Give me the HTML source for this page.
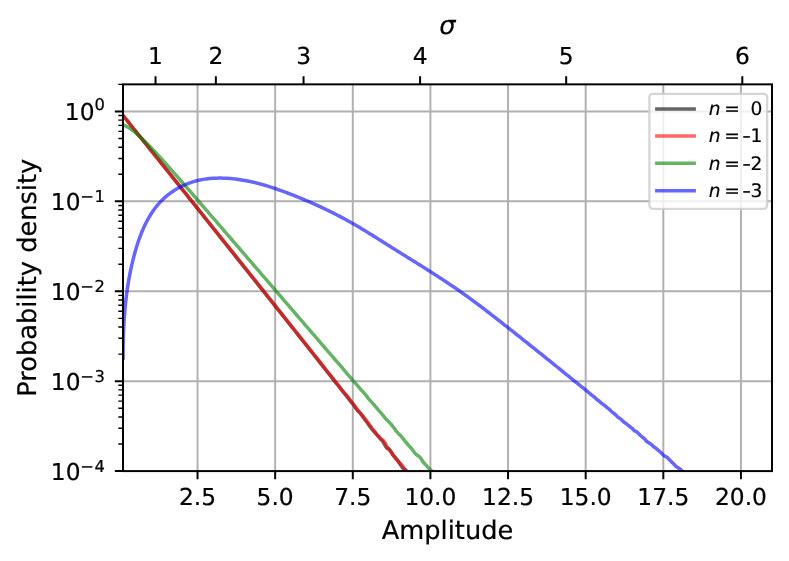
<!DOCTYPE html>
<html><head><meta charset="utf-8"><title>Probability density</title>
<style>html,body{margin:0;padding:0;background:#fff}svg{display:block}</style></head>
<body>
<svg width="789" height="561" viewBox="0 0 789 561" font-family="DejaVu Sans, Liberation Sans, sans-serif" text-rendering="geometricPrecision" stroke-linejoin="round">
<rect width="789" height="561" fill="#fff"/>
<defs><clipPath id="ax"><rect x="123.00" y="84.35" width="649.00" height="386.75"/></clipPath></defs>
<path d="M197.53 84.35V471.10M275.16 84.35V471.10M352.79 84.35V471.10M430.42 84.35V471.10M508.05 84.35V471.10M585.68 84.35V471.10M663.32 84.35V471.10M740.95 84.35V471.10M123.00 111.42H772.00M123.00 201.34H772.00M123.00 291.26H772.00M123.00 381.18H772.00M123.00 471.10H772.00" stroke="#b0b0b0" stroke-width="1.95" fill="none"/>
<g clip-path="url(#ax)" fill="none" stroke-width="3.50" stroke-opacity="0.6" stroke-linejoin="round" stroke-linecap="butt">
<path d="M123.00 115.32L124.55 117.28L126.11 119.23L127.66 121.18L129.21 123.13L130.76 125.09L132.32 127.04L133.87 128.99L135.42 130.94L136.97 132.90L138.53 134.85L140.08 136.78L141.63 138.71L143.18 140.64L144.74 142.56L146.29 144.49L147.84 146.42L149.39 148.35L150.95 150.28L152.50 152.21L154.05 154.14L155.61 156.07L157.16 158.00L158.71 159.93L160.26 161.86L161.82 163.79L163.37 165.72L164.92 167.64L166.47 169.57L168.03 171.52L169.58 173.47L171.13 175.42L172.68 177.37L174.24 179.31L175.79 181.26L177.34 183.21L178.89 185.16L180.45 187.11L182.00 189.06L183.55 191.01L185.11 192.95L186.66 194.90L188.21 196.85L189.76 198.80L191.32 200.75L192.87 202.70L194.42 204.66L195.97 206.61L197.53 208.56L199.08 210.51L200.63 212.46L202.18 214.41L203.74 216.37L205.29 218.32L206.84 220.27L208.39 222.22L209.95 224.18L211.50 226.13L213.05 228.09L214.61 230.04L216.16 232.00L217.71 233.95L219.26 235.91L220.82 237.86L222.37 239.82L223.92 241.78L225.47 243.73L227.03 245.69L228.58 247.65L230.13 249.59L231.68 251.53L233.24 253.47L234.79 255.41L236.34 257.36L237.89 259.30L239.45 261.24L241.00 263.19L242.55 265.13L244.11 267.07L245.66 269.02L247.21 270.96L248.76 272.91L250.32 274.86L251.87 276.80L253.42 278.75L254.97 280.70L256.53 282.64L258.08 284.59L259.63 286.54L261.18 288.49L262.74 290.44L264.29 292.39L265.84 294.34L267.39 296.29L268.95 298.24L270.50 300.19L272.05 302.14L273.61 304.10L275.16 306.05L276.71 308.00L278.26 309.96L279.82 311.91L281.37 313.87L282.92 315.82L284.47 317.78L286.03 319.73L287.58 321.69L289.13 323.64L290.68 325.60L292.24 327.56L293.79 329.52L295.34 331.48L296.89 333.43L298.45 335.39L300.00 337.35L301.55 339.31L303.11 341.27L304.66 343.23L306.21 345.20L307.76 347.16L309.32 349.12L310.87 351.08L312.42 353.02L313.97 354.99L315.53 356.96L317.08 358.91L318.63 360.82L320.18 362.84L321.74 364.84L323.29 366.80L324.84 368.76L326.39 370.82L327.95 372.77L329.50 374.64L331.05 376.57L332.61 378.56L334.16 380.64L335.71 382.55L337.26 384.50L338.82 386.41L340.37 388.47L341.92 390.35L343.47 392.18L345.03 394.07L346.58 396.12L348.13 398.19L349.68 400.14L351.24 402.07L352.79 403.96L354.34 406.04L355.89 408.50L357.45 410.55L359.00 411.88L360.55 413.23L362.11 415.50L363.66 417.97L365.21 420.07L366.76 422.02L368.32 424.21L369.87 426.38L371.42 428.58L372.97 430.26L374.53 432.08L376.08 433.70L377.63 435.72L379.18 437.38L380.74 439.31L382.29 440.61L383.84 443.27L385.39 445.98L386.95 448.27L388.50 448.48L390.05 450.04L391.61 452.61L393.16 455.55L394.71 456.91L396.26 458.76L397.82 460.54L399.37 463.03L400.92 465.54L402.47 467.80L404.03 469.14L405.58 469.86L407.13 471.85L408.68 474.55L410.24 476.91L411.79 478.45L413.34 479.95L414.89 482.19L416.45 484.30" stroke="#000"/>
<path d="M123.00 115.32L124.55 117.28L126.11 119.23L127.66 121.18L129.21 123.13L130.76 125.09L132.32 127.04L133.87 128.99L135.42 130.94L136.97 132.90L138.53 134.85L140.08 136.78L141.63 138.71L143.18 140.64L144.74 142.56L146.29 144.49L147.84 146.42L149.39 148.35L150.95 150.28L152.50 152.21L154.05 154.14L155.61 156.07L157.16 158.00L158.71 159.93L160.26 161.86L161.82 163.79L163.37 165.72L164.92 167.64L166.47 169.57L168.03 171.50L169.58 173.44L171.13 175.37L172.68 177.30L174.24 179.23L175.79 181.16L177.34 183.09L178.89 185.02L180.45 186.95L182.00 188.88L183.55 190.81L185.11 192.75L186.66 194.68L188.21 196.61L189.76 198.54L191.32 200.48L192.87 202.41L194.42 204.34L195.97 206.28L197.53 208.21L199.08 210.15L200.63 212.08L202.18 214.02L203.74 215.95L205.29 217.89L206.84 219.82L208.39 221.76L209.95 223.69L211.50 225.63L213.05 227.57L214.61 229.51L216.16 231.44L217.71 233.38L219.26 235.32L220.82 237.26L222.37 239.20L223.92 241.14L225.47 243.08L227.03 245.02L228.58 246.96L230.13 248.90L231.68 250.84L233.24 252.78L234.79 254.72L236.34 256.66L237.89 258.61L239.45 260.55L241.00 262.49L242.55 264.44L244.11 266.38L245.66 268.33L247.21 270.27L248.76 272.22L250.32 274.16L251.87 276.11L253.42 278.06L254.97 280.00L256.53 281.95L258.08 283.90L259.63 285.85L261.18 287.80L262.74 289.75L264.29 291.70L265.84 293.65L267.39 295.60L268.95 297.55L270.50 299.50L272.05 301.45L273.61 303.41L275.16 305.36L276.71 307.31L278.26 309.26L279.82 311.22L281.37 313.17L282.92 315.13L284.47 317.08L286.03 319.04L287.58 321.00L289.13 322.95L290.68 324.91L292.24 326.87L293.79 328.83L295.34 330.78L296.89 332.74L298.45 334.70L300.00 336.66L301.55 338.62L303.11 340.58L304.66 342.54L306.21 344.50L307.76 346.47L309.32 348.43L310.87 350.39L312.42 352.35L313.97 354.31L315.53 356.25L317.08 358.20L318.63 360.19L320.18 362.16L321.74 364.17L323.29 366.14L324.84 368.14L326.39 370.10L327.95 372.05L329.50 373.99L331.05 375.87L332.61 377.92L334.16 379.88L335.71 381.83L337.26 383.69L338.82 385.83L340.37 387.91L341.92 390.00L343.47 392.09L345.03 393.76L346.58 395.29L348.13 396.90L349.68 399.23L351.24 401.30L352.79 403.36L354.34 405.18L355.89 407.24L357.45 409.37L359.00 411.76L360.55 413.75L362.11 415.48L363.66 416.91L365.21 418.99L366.76 420.79L368.32 422.92L369.87 425.23L371.42 427.44L372.97 429.26L374.53 431.35L376.08 433.59L377.63 435.16L379.18 436.71L380.74 438.62L382.29 439.66L383.84 441.09L385.39 443.03L386.95 446.68L388.50 449.14L390.05 451.11L391.61 452.53L393.16 455.03L394.71 457.20L396.26 459.02L397.82 460.99L399.37 462.73L400.92 463.86L402.47 465.45L404.03 468.16L405.58 470.56L407.13 472.19L408.68 473.65L410.24 476.46L411.79 479.24L413.34 481.16L414.89 482.06L416.45 483.80" stroke="#f00"/>
<path d="M123.00 124.73L124.55 125.42L126.11 126.21L127.66 127.11L129.21 128.09L130.76 129.15L132.32 130.28L133.87 131.48L135.42 132.74L136.97 134.05L138.53 135.40L140.08 136.81L141.63 138.25L143.18 139.72L144.74 141.23L146.29 142.77L147.84 144.33L149.39 145.92L150.95 147.52L152.50 149.15L154.05 150.79L155.61 152.45L157.16 154.12L158.71 155.81L160.26 157.51L161.82 159.22L163.37 160.93L164.92 162.66L166.47 164.39L168.03 166.13L169.58 167.88L171.13 169.63L172.68 171.39L174.24 173.15L175.79 174.91L177.34 176.68L178.89 178.45L180.45 180.23L182.00 182.01L183.55 183.79L185.11 185.57L186.66 187.36L188.21 189.14L189.76 190.93L191.32 192.72L192.87 194.51L194.42 196.31L195.97 198.10L197.53 199.90L199.08 201.69L200.63 203.49L202.18 205.28L203.74 207.08L205.29 208.88L206.84 210.68L208.39 212.48L209.95 214.28L211.50 216.08L213.05 217.88L214.61 219.68L216.16 221.48L217.71 223.28L219.26 225.08L220.82 226.89L222.37 228.69L223.92 230.49L225.47 232.29L227.03 234.09L228.58 235.90L230.13 237.70L231.68 239.50L233.24 241.31L234.79 243.11L236.34 244.91L237.89 246.72L239.45 248.52L241.00 250.32L242.55 252.13L244.11 253.93L245.66 255.73L247.21 257.54L248.76 259.34L250.32 261.14L251.87 262.95L253.42 264.75L254.97 266.55L256.53 268.36L258.08 270.16L259.63 271.96L261.18 273.77L262.74 275.57L264.29 277.37L265.84 279.18L267.39 280.98L268.95 282.79L270.50 284.59L272.05 286.39L273.61 288.20L275.16 290.00L276.71 291.80L278.26 293.61L279.82 295.41L281.37 297.22L282.92 299.02L284.47 300.82L286.03 302.63L287.58 304.43L289.13 306.23L290.68 308.04L292.24 309.84L293.79 311.65L295.34 313.45L296.89 315.25L298.45 317.06L300.00 318.86L301.55 320.67L303.11 322.47L304.66 324.27L306.21 326.08L307.76 327.88L309.32 329.68L310.87 331.49L312.42 333.29L313.97 335.10L315.53 336.90L317.08 338.70L318.63 340.51L320.18 342.31L321.74 344.11L323.29 345.92L324.84 347.72L326.39 349.53L327.95 351.34L329.50 353.14L331.05 354.92L332.61 356.69L334.16 358.48L335.71 360.29L337.26 362.09L338.82 363.86L340.37 365.63L341.92 367.43L343.47 369.29L345.03 371.21L346.58 373.05L348.13 374.80L349.68 376.55L351.24 378.44L352.79 380.33L354.34 382.07L355.89 383.73L357.45 385.54L359.00 387.45L360.55 389.23L362.11 390.90L363.66 392.53L365.21 394.30L366.76 396.34L368.32 398.40L369.87 400.23L371.42 401.87L372.97 403.60L374.53 405.30L376.08 407.23L377.63 409.05L379.18 410.93L380.74 412.62L382.29 414.48L383.84 416.43L385.39 418.28L386.95 420.07L388.50 421.50L390.05 423.18L391.61 424.81L393.16 426.86L394.71 428.78L396.26 431.19L397.82 432.94L399.37 434.66L400.92 435.86L402.47 437.95L404.03 439.73L405.58 441.78L407.13 443.71L408.68 445.60L410.24 447.15L411.79 448.72L413.34 450.92L414.89 453.13L416.45 454.68L418.00 455.67L419.55 456.92L421.11 458.73L422.66 461.29L424.21 463.21L425.76 464.89L427.32 466.52L428.87 468.35L430.42 469.79L431.97 471.34L433.53 473.94L435.08 476.44L436.63 479.08L438.18 480.51L439.74 481.80L441.29 482.91" stroke="#008000"/>
<path d="M123.11 360.06L123.10 358.49L123.10 356.92L123.11 355.37L123.11 353.81L123.12 352.25L123.14 350.69L123.15 349.14L123.17 347.59L123.19 346.05L123.22 344.50L123.25 342.95L123.28 341.41L123.32 339.86L123.36 338.32L123.40 336.78L123.45 335.24L123.50 333.71L123.55 332.17L123.62 330.64L123.68 329.11L123.75 327.58L123.82 326.05L123.90 324.52L123.98 322.99L124.07 321.47L124.17 319.94L124.26 318.42L124.37 316.90L124.48 315.38L124.59 313.86L124.71 312.34L124.83 310.82L124.96 309.31L125.10 307.79L125.24 306.28L125.39 304.76L125.54 303.25L125.71 301.74L125.87 300.23L126.04 298.71L126.22 297.20L126.41 295.69L126.60 294.19L126.80 292.68L127.01 291.17L127.22 289.66L127.44 288.16L127.67 286.65L127.90 285.14L128.14 283.64L128.39 282.13L128.65 280.63L128.91 279.12L129.19 277.62L129.47 276.11L129.75 274.61L130.05 273.10L130.35 271.60L130.66 270.09L130.98 268.59L131.31 267.08L131.65 265.58L132.00 264.07L132.35 262.57L132.71 261.06L133.09 259.56L133.47 258.05L133.86 256.55L134.26 255.04L134.67 253.53L135.08 252.03L135.51 250.52L135.95 249.02L136.40 247.51L136.86 246.01L137.33 244.52L137.82 243.02L138.31 241.53L138.82 240.05L139.35 238.57L139.88 237.09L140.43 235.63L140.99 234.17L141.57 232.71L142.16 231.27L142.77 229.83L143.39 228.40L144.03 226.99L144.69 225.58L145.36 224.18L146.05 222.80L146.75 221.43L147.48 220.07L148.22 218.72L148.98 217.39L149.76 216.07L150.56 214.77L151.37 213.48L152.21 212.21L153.07 210.95L153.95 209.71L154.85 208.49L155.77 207.29L156.71 206.11L157.68 204.94L158.67 203.80L159.68 202.68L160.71 201.57L161.77 200.49L162.85 199.43L163.95 198.40L165.08 197.38L166.23 196.39L167.40 195.43L168.58 194.48L169.79 193.56L171.02 192.67L172.27 191.80L173.53 190.95L174.81 190.13L176.11 189.33L177.43 188.56L178.76 187.82L180.11 187.10L181.47 186.40L182.84 185.74L184.23 185.10L185.64 184.49L187.05 183.90L188.48 183.35L189.91 182.82L191.36 182.32L192.82 181.85L194.29 181.41L195.77 181.00L197.25 180.62L198.75 180.26L200.25 179.94L201.76 179.65L203.27 179.38L204.79 179.14L206.32 178.93L207.84 178.74L209.38 178.58L210.91 178.45L212.45 178.33L213.99 178.24L215.53 178.17L217.07 178.13L218.61 178.10L220.15 178.10L221.69 178.11L223.22 178.14L224.76 178.19L226.29 178.26L227.82 178.35L229.35 178.45L230.88 178.58L232.41 178.72L233.93 178.87L235.46 179.05L236.98 179.24L238.50 179.44L240.02 179.66L241.54 179.90L243.05 180.15L244.57 180.41L246.08 180.69L247.59 180.99L249.10 181.29L250.60 181.61L252.11 181.95L253.61 182.29L255.11 182.65L256.61 183.02L258.10 183.40L259.60 183.79L261.09 184.20L262.58 184.61L264.07 185.04L265.55 185.47L267.04 185.92L268.52 186.37L269.99 186.84L271.47 187.31L272.95 187.79L274.42 188.28L275.89 188.77L277.35 189.28L278.82 189.79L280.28 190.31L281.74 190.83L283.19 191.36L284.65 191.90L286.10 192.44L287.55 192.99L289.00 193.54L290.44 194.10L291.88 194.66L293.32 195.23L294.75 195.80L296.19 196.37L297.62 196.95L299.04 197.53L300.47 198.11L301.89 198.70L303.31 199.29L304.73 199.89L306.14 200.49L307.55 201.09L308.96 201.70L310.36 202.31L311.77 202.93L313.17 203.55L314.57 204.17L315.96 204.80L317.35 205.43L318.74 206.07L320.13 206.71L321.52 207.35L322.90 208.00L324.28 208.66L325.66 209.32L327.03 209.98L328.41 210.65L329.78 211.32L331.15 212.00L332.51 212.68L333.88 213.36L335.24 214.05L336.60 214.75L337.95 215.45L339.31 216.16L340.66 216.87L342.01 217.58L343.35 218.30L344.70 219.03L346.04 219.76L347.38 220.50L348.72 221.24L350.06 221.98L351.39 222.73L352.72 223.49L354.05 224.25L355.38 225.02L356.70 225.79L358.03 226.57L359.35 227.35L360.67 228.13L361.99 228.92L363.30 229.72L364.62 230.51L365.93 231.31L367.24 232.12L368.55 232.92L369.86 233.73L371.17 234.54L372.48 235.35L373.79 236.17L375.10 236.99L376.40 237.80L377.71 238.62L379.01 239.44L380.32 240.26L381.62 241.09L382.93 241.91L384.23 242.73L385.53 243.55L386.84 244.38L388.14 245.20L389.45 246.02L390.75 246.84L392.05 247.66L393.36 248.48L394.67 249.29L395.97 250.11L397.28 250.93L398.58 251.74L399.89 252.55L401.20 253.37L402.50 254.18L403.81 254.99L405.11 255.81L406.42 256.62L407.73 257.43L409.03 258.24L410.34 259.06L411.64 259.87L412.95 260.68L414.25 261.49L415.55 262.31L416.86 263.12L418.16 263.94L419.46 264.75L420.76 265.57L422.06 266.38L423.36 267.20L424.66 268.02L425.96 268.84L427.26 269.66L428.55 270.48L429.85 271.31L431.14 272.13L432.44 272.96L433.73 273.79L435.02 274.62L436.31 275.45L437.60 276.28L438.88 277.11L440.17 277.95L441.45 278.79L442.73 279.63L444.01 280.48L445.29 281.32L446.57 282.17L447.85 283.02L449.12 283.87L450.39 284.73L451.67 285.59L452.93 286.45L454.20 287.31L455.47 288.18L456.73 289.05L457.99 289.92L459.25 290.80L460.51 291.68L461.76 292.56L463.01 293.45L464.26 294.34L465.51 295.23L466.76 296.13L468.00 297.03L469.24 297.93L470.48 298.83L471.72 299.74L472.96 300.65L474.20 301.56L475.43 302.48L476.66 303.40L477.89 304.32L479.12 305.24L480.35 306.17L481.57 307.09L482.80 308.02L484.02 308.95L485.24 309.89L486.46 310.82L487.68 311.76L488.90 312.69L490.12 313.63L491.33 314.58L492.55 315.52L493.76 316.46L494.98 317.41L496.19 318.35L497.40 319.30L498.61 320.25L499.82 321.20L501.03 322.15L502.24 323.10L503.45 324.05L504.66 325.01L505.86 325.96L507.07 326.91L508.28 327.87L509.48 328.82L510.69 329.78L511.90 330.73L513.10 331.69L514.31 332.64L515.51 333.60L516.72 334.55L517.92 335.51L519.13 336.47L520.33 337.43L521.53 338.38L522.74 339.34L523.94 340.30L525.14 341.26L526.34 342.22L527.55 343.17L528.75 344.13L529.95 345.09L531.15 346.05L532.35 347.01L533.55 347.97L534.75 348.93L535.95 349.89L537.15 350.86L538.35 351.82L539.55 352.78L540.75 353.74L541.95 354.70L543.15 355.65L544.34 356.61L545.54 357.59L546.74 358.56L547.94 359.52L549.13 360.47L550.33 361.43L551.53 362.41L552.72 363.39L553.92 364.34L555.11 365.28L556.31 366.27L557.50 367.25L558.70 368.22L559.89 369.16L561.09 370.09L562.28 371.07L563.47 372.09L564.67 373.07L565.86 374.06L567.05 375.00L568.24 375.93L569.44 376.90L570.63 377.83L571.82 378.79L573.01 379.80L574.20 380.80L575.39 381.77L576.58 382.76L577.78 383.73L578.97 384.69L580.16 385.69L581.34 386.58L582.53 387.41L583.72 388.37L584.91 389.40L586.10 390.42L587.29 391.43L588.48 392.42L589.66 393.40L590.85 394.44L592.04 395.35L593.23 396.18L594.41 397.16L595.60 398.22L596.79 399.34L597.97 400.33L599.16 401.09L600.34 402.17L601.53 403.31L602.71 404.13L603.90 404.96L605.08 405.83L606.27 406.85L607.45 407.85L608.64 408.70L609.82 409.76L611.00 410.96L612.19 412.05L613.37 413.02L614.55 413.81L615.73 414.82L616.92 416.16L618.10 417.28L619.28 418.10L620.46 418.94L621.64 419.87L622.82 420.94L624.00 422.16L625.18 422.98L626.36 423.73L627.54 424.78L628.72 425.67L629.90 426.60L631.08 427.55L632.26 428.45L633.44 429.76L634.62 430.91L635.80 431.33L636.97 431.97L638.15 433.14L639.33 434.41L640.50 435.49L641.68 436.49L642.85 437.56L644.03 438.37L645.20 439.56L646.37 441.06L647.55 442.05L648.72 442.72L649.89 443.44L651.06 444.25L652.23 445.33L653.40 446.56L654.57 447.31L655.73 448.06L656.90 449.13L658.06 450.08L659.23 451.02L660.39 452.06L661.55 453.21L662.71 454.46L663.87 455.49L665.03 456.25L666.19 456.80L667.35 457.52L668.50 458.81L669.65 459.92L670.80 461.03L671.95 462.33L673.10 463.25L674.25 464.44L675.39 465.90L676.53 466.83L677.67 467.47L678.81 468.33L679.94 469.03L681.07 469.84L682.20 471.39L683.32 472.91L684.45 474.16L685.56 475.23L686.68 476.42L687.79 477.69L688.90 478.44L690.01 479.16" stroke="#00f"/>
</g>
<path d="M197.53 471.10v8.17M275.16 471.10v8.17M352.79 471.10v8.17M430.42 471.10v8.17M508.05 471.10v8.17M585.68 471.10v8.17M663.32 471.10v8.17M740.95 471.10v8.17M123.00 111.42h-8.17M123.00 201.34h-8.17M123.00 291.26h-8.17M123.00 381.18h-8.17M123.00 471.10h-8.17M155.54 84.35v-8.17M215.85 84.35v-8.17M303.56 84.35v-8.17M420.08 84.35v-8.17M566.18 84.35v-8.17M742.30 84.35v-8.17" stroke="#000" stroke-width="1.98" fill="none"/>
<path d="M123.00 444.03h-4.67M123.00 428.20h-4.67M123.00 416.96h-4.67M123.00 408.25h-4.67M123.00 401.13h-4.67M123.00 395.11h-4.67M123.00 389.89h-4.67M123.00 385.29h-4.67M123.00 354.11h-4.67M123.00 338.28h-4.67M123.00 327.04h-4.67M123.00 318.33h-4.67M123.00 311.21h-4.67M123.00 305.19h-4.67M123.00 299.97h-4.67M123.00 295.37h-4.67M123.00 264.19h-4.67M123.00 248.36h-4.67M123.00 237.12h-4.67M123.00 228.41h-4.67M123.00 221.29h-4.67M123.00 215.27h-4.67M123.00 210.05h-4.67M123.00 205.45h-4.67M123.00 174.27h-4.67M123.00 158.44h-4.67M123.00 147.20h-4.67M123.00 138.49h-4.67M123.00 131.37h-4.67M123.00 125.35h-4.67M123.00 120.13h-4.67M123.00 115.53h-4.67M123.00 84.35h-4.67" stroke="#000" stroke-width="1.40" fill="none"/>
<rect x="123.00" y="84.35" width="649.00" height="386.75" fill="none" stroke="#000" stroke-width="1.98" stroke-linejoin="miter"/>
<g font-size="23.33" fill="#000" stroke="#000" stroke-width="0.22">
<g text-anchor="middle">
<text x="197.53" y="505.0">2.5</text>
<text x="275.16" y="505.0">5.0</text>
<text x="352.79" y="505.0">7.5</text>
<text x="430.42" y="505.0">10.0</text>
<text x="508.05" y="505.0">12.5</text>
<text x="585.68" y="505.0">15.0</text>
<text x="663.32" y="505.0">17.5</text>
<text x="740.95" y="505.0">20.0</text>
<text x="155.54" y="63.7">1</text>
<text x="215.85" y="63.7">2</text>
<text x="303.56" y="63.7">3</text>
<text x="420.08" y="63.7">4</text>
<text x="566.18" y="63.7">5</text>
<text x="742.30" y="63.7">6</text>
</g>
<text x="64.8" y="120.32">10<tspan x="94.6" y="110.12" font-size="16.33">0</tspan></text>
<text x="50.8" y="210.24">10<tspan x="80.3" y="201.74" font-size="16.33">−</tspan><tspan x="94.4" y="201.74" font-size="16.33">1</tspan></text>
<text x="50.8" y="300.16">10<tspan x="80.3" y="291.66" font-size="16.33">−</tspan><tspan x="94.4" y="291.66" font-size="16.33">2</tspan></text>
<text x="50.8" y="390.08">10<tspan x="80.3" y="381.58" font-size="16.33">−</tspan><tspan x="94.4" y="381.58" font-size="16.33">3</tspan></text>
<text x="50.8" y="480.00">10<tspan x="80.3" y="471.50" font-size="16.33">−</tspan><tspan x="94.4" y="471.50" font-size="16.33">4</tspan></text>
</g>
<g font-size="25.67" fill="#000" stroke="#000" stroke-width="0.22" text-anchor="middle">
<text x="447.50" y="538.6">Amplitude</text>
<text x="447.50" y="34.2" font-style="italic">σ</text>
<text transform="translate(36.4 277.73) rotate(-90)">Probability density</text>
</g>
<rect x="649.4" y="93.9" width="117.70" height="114.90" rx="3.3" ry="3.3" fill="#fff" fill-opacity="0.8" stroke="#ccc" stroke-opacity="0.8" stroke-width="2.33"/>
<g font-size="18.67" fill="#000" stroke="#000" stroke-width="0.18">
<path d="M656.85 108.95H694.15" stroke="#000" stroke-opacity="0.6" stroke-width="3.50" stroke-linecap="square" fill="none"/>
<text y="115.30"><tspan x="708.7" font-style="italic">n</tspan><tspan x="724.25">=</tspan><tspan x="750.4">0</tspan></text>
<path d="M656.85 136.1H694.15" stroke="#f00" stroke-opacity="0.6" stroke-width="3.50" stroke-linecap="square" fill="none"/>
<text y="142.20"><tspan x="708.7" font-style="italic">n</tspan><tspan x="724.25">=</tspan><tspan x="742.3" textLength="8.8" lengthAdjust="spacingAndGlyphs">-</tspan><tspan x="750.4">1</tspan></text>
<path d="M656.85 163.3H694.15" stroke="#008000" stroke-opacity="0.6" stroke-width="3.50" stroke-linecap="square" fill="none"/>
<text y="170.00"><tspan x="708.7" font-style="italic">n</tspan><tspan x="724.25">=</tspan><tspan x="742.3" textLength="8.8" lengthAdjust="spacingAndGlyphs">-</tspan><tspan x="750.4">2</tspan></text>
<path d="M656.85 190.75H694.15" stroke="#00f" stroke-opacity="0.6" stroke-width="3.50" stroke-linecap="square" fill="none"/>
<text y="197.45"><tspan x="708.7" font-style="italic">n</tspan><tspan x="724.25">=</tspan><tspan x="742.3" textLength="8.8" lengthAdjust="spacingAndGlyphs">-</tspan><tspan x="750.4">3</tspan></text>
</g>
</svg>
</body></html>
